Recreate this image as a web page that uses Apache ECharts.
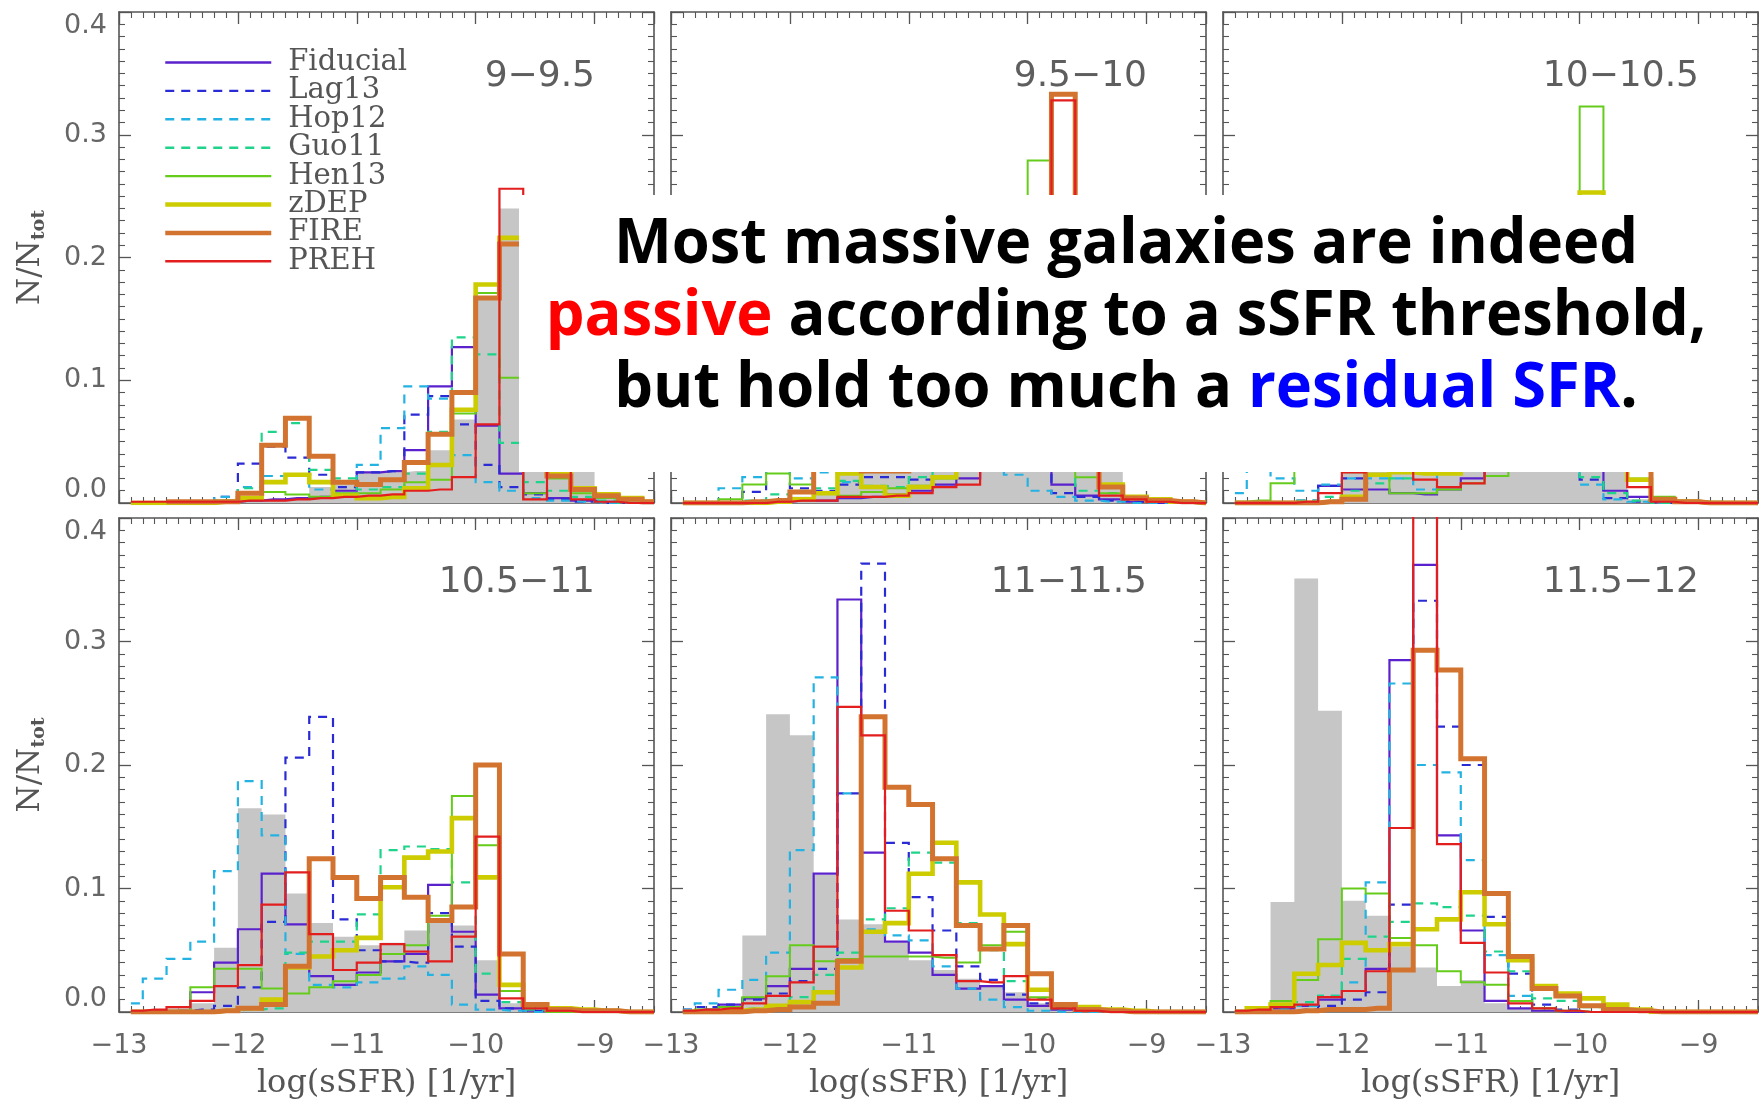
<!DOCTYPE html>
<html>
<head>
<meta charset="utf-8">
<title>sSFR distributions per stellar-mass bin</title>
<script src="https://cdn.jsdelivr.net/npm/echarts@6.0.0/dist/echarts.min.js"></script>
<style>
  html, body { margin: 0; padding: 0; background: #ffffff; }
  #chart { width: 1759px; height: 1102px; }
</style>
</head>
<body>
<div id="chart"></div>
<script>
// Centres of the 0.2 dex log(sSFR) bins
const BIN_CENTERS = [-12.9, -12.7, -12.5, -12.3, -12.1, -11.9, -11.7, -11.5, -11.3, -11.1, -10.9,
  -10.7, -10.5, -10.3, -10.1, -9.9, -9.7, -9.5, -9.3, -9.1, -8.9, -8.7, -8.5];

// Stellar-mass bins, one panel each
const MASS_BINS = ['9\u22129.5', '9.5\u221210', '10\u221210.5', '10.5\u221211', '11\u221211.5', '11.5\u221212'];

const MODEL_NAMES = ['Fiducial', 'Lag13', 'Hop12', 'Guo11', 'Hen13', 'zDEP', 'FIRE', 'PREH'];

const X_TITLE = 'log(sSFR) [1/yr]';

// Observed distribution (grey histogram), one row per mass bin
const OBSERVED = [
  [0, 0, 0, 0, 0, 0.001, 0.002, 0.003, 0.013, 0.016, 0.025, 0.025, 0.026, 0.043, 0.068, 0.166, 0.24, 0.07, 0.035, 0.027, 0.009, 0.005, 0.001],
  [0, 0, 0, 0, 0.002, 0.005, 0.01, 0.045, 0.05, 0.055, 0.06, 0.07, 0.09, 0.12, 0.16, 0.2, 0.15, 0.08, 0.04, 0.002, 0.001, 0, 0],
  [0, 0, 0, 0, 0.002, 0.03, 0.05, 0.06, 0.07, 0.08, 0.09, 0.1, 0.12, 0.15, 0.18, 0.2, 0.12, 0.003, 0.001, 0, 0, 0, 0],
  [0, 0.001, 0.003, 0.007, 0.052, 0.165, 0.16, 0.096, 0.072, 0.061, 0.054, 0.056, 0.066, 0.072, 0.07, 0.042, 0.007, 0.002, 0, 0, 0, 0, 0],
  [0, 0, 0.002, 0.062, 0.241, 0.224, 0.111, 0.075, 0.071, 0.056, 0.042, 0.034, 0.027, 0.021, 0.016, 0.007, 0.003, 0.001, 0, 0, 0, 0, 0],
  [0, 0.004, 0.089, 0.351, 0.244, 0.09, 0.078, 0.053, 0.036, 0.021, 0.026, 0.007, 0.003, 0.001, 0, 0, 0, 0, 0, 0, 0, 0, 0]
];

const FIDUCIAL = [
  [0, 0, 0, 0, 0.001, 0.002, 0.003, 0.004, 0.005, 0.01, 0.025, 0.026, 0.043, 0.095, 0.127, 0.063, 0.024, 0.008, 0.004, 0.002, 0.001, 0, 0],
  [0, 0, 0, 0, 0.001, 0.002, 0.002, 0.004, 0.005, 0.007, 0.01, 0.015, 0.02, 0.04, 0.08, 0.15, 0.015, 0.006, 0.003, 0.001, 0, 0, 0],
  [0, 0, 0, 0, 0.014, 0.011, 0.011, 0.008, 0.007, 0.011, 0.02, 0.03, 0.05, 0.07, 0.1, 0.12, 0.01, 0.005, 0.001, 0, 0, 0, 0],
  [0, 0, 0.001, 0.016, 0.04, 0.067, 0.112, 0.071, 0.029, 0.022, 0.032, 0.041, 0.047, 0.103, 0.065, 0.014, 0.003, 0.001, 0, 0, 0, 0, 0],
  [0.001, 0.002, 0.006, 0.011, 0.021, 0.035, 0.112, 0.334, 0.129, 0.057, 0.048, 0.03, 0.019, 0.021, 0.01, 0.005, 0.002, 0.001, 0, 0, 0, 0, 0],
  [0, 0.001, 0.003, 0.005, 0.01, 0.017, 0.035, 0.285, 0.362, 0.143, 0.066, 0.009, 0.003, 0.001, 0, 0, 0, 0, 0, 0, 0, 0, 0]
];

const LAG13 = [
  [0, 0, 0, 0, 0.005, 0.032, 0.046, 0.037, 0.023, 0.013, 0.025, 0.026, 0.072, 0.087, 0.064, 0.031, 0.013, 0.007, 0.003, 0.001, 0, 0, 0],
  [0, 0, 0, 0.009, 0.03, 0.012, 0.01, 0.015, 0.021, 0.021, 0.019, 0.03, 0.04, 0.06, 0.1, 0.12, 0.008, 0.005, 0.002, 0.001, 0, 0, 0],
  [0, 0, 0, 0.002, 0.014, 0.02, 0.03, 0.03, 0.03, 0.03, 0.04, 0.05, 0.06, 0.07, 0.08, 0.019, 0.004, 0.001, 0, 0, 0, 0, 0],
  [0, 0, 0.001, 0.002, 0.005, 0.02, 0.073, 0.206, 0.239, 0.075, 0.05, 0.041, 0.04, 0.08, 0.053, 0.009, 0.003, 0.001, 0, 0, 0, 0, 0],
  [0.002, 0.004, 0.006, 0.01, 0.015, 0.025, 0.035, 0.177, 0.363, 0.137, 0.093, 0.066, 0.037, 0.026, 0.014, 0.007, 0.003, 0.001, 0, 0, 0, 0, 0],
  [0, 0, 0.001, 0.002, 0.005, 0.01, 0.016, 0.087, 0.333, 0.231, 0.2, 0.077, 0.031, 0.006, 0.002, 0, 0, 0, 0, 0, 0, 0, 0]
];

const HOP12 = [
  [0, 0, 0, 0, 0.005, 0.013, 0.022, 0.022, 0.011, 0.017, 0.031, 0.061, 0.095, 0.085, 0.039, 0.017, 0.01, 0.004, 0.002, 0.001, 0, 0, 0],
  [0, 0, 0.012, 0.021, 0.03, 0.02, 0.025, 0.017, 0.03, 0.04, 0.05, 0.06, 0.07, 0.08, 0.023, 0.01, 0.005, 0.002, 0.001, 0, 0, 0, 0],
  [0.008, 0.03, 0.02, 0.01, 0.015, 0.02, 0.02, 0.02, 0.011, 0.04, 0.05, 0.06, 0.07, 0.06, 0.03, 0.015, 0.003, 0.001, 0, 0, 0, 0, 0],
  [0.007, 0.027, 0.043, 0.057, 0.114, 0.187, 0.143, 0.047, 0.022, 0.02, 0.024, 0.027, 0.037, 0.03, 0.006, 0.002, 0.001, 0, 0, 0, 0, 0, 0],
  [0.002, 0.007, 0.018, 0.026, 0.048, 0.131, 0.271, 0.177, 0.067, 0.062, 0.058, 0.037, 0.019, 0.01, 0.004, 0.001, 0, 0, 0, 0, 0, 0, 0],
  [0, 0, 0.002, 0.005, 0.013, 0.024, 0.105, 0.266, 0.2, 0.194, 0.123, 0.046, 0.013, 0.003, 0.001, 0, 0, 0, 0, 0, 0, 0, 0]
];

const GUO11 = [
  [0, 0, 0, 0, 0.002, 0.012, 0.058, 0.065, 0.027, 0.02, 0.011, 0.013, 0.024, 0.058, 0.135, 0.121, 0.049, 0.017, 0.01, 0.005, 0.002, 0, 0],
  [0, 0, 0, 0.002, 0.007, 0.01, 0.012, 0.018, 0.014, 0.013, 0.021, 0.03, 0.05, 0.07, 0.09, 0.1, 0.04, 0.01, 0.008, 0.003, 0.001, 0, 0],
  [0, 0, 0, 0.002, 0.005, 0.01, 0.016, 0.02, 0.025, 0.03, 0.04, 0.05, 0.06, 0.08, 0.1, 0.021, 0.008, 0.002, 0, 0, 0, 0, 0],
  [0, 0, 0, 0, 0.001, 0.002, 0.003, 0.048, 0.057, 0.057, 0.079, 0.131, 0.134, 0.132, 0.105, 0.031, 0.008, 0.002, 0, 0, 0, 0, 0],
  [0, 0.001, 0.002, 0.003, 0.005, 0.012, 0.03, 0.048, 0.075, 0.084, 0.129, 0.121, 0.072, 0.05, 0.025, 0.011, 0.003, 0.001, 0, 0, 0, 0, 0],
  [0, 0.002, 0.004, 0.008, 0.013, 0.043, 0.061, 0.073, 0.088, 0.085, 0.078, 0.049, 0.033, 0.011, 0.009, 0.004, 0.002, 0, 0, 0, 0, 0, 0]
];

const HEN13 = [
  [0, 0, 0, 0, 0.002, 0.009, 0.009, 0.007, 0.005, 0.008, 0.008, 0.011, 0.017, 0.019, 0.073, 0.171, 0.102, 0.008, 0.02, 0.008, 0.004, 0.002, 0],
  [0, 0, 0.003, 0.015, 0.024, 0.015, 0.008, 0.006, 0.009, 0.012, 0.014, 0.02, 0.035, 0.06, 0.12, 0.279, 0.08, 0.021, 0.008, 0.004, 0.002, 0.001, 0],
  [0.001, 0.002, 0.016, 0.04, 0.03, 0.025, 0.022, 0.008, 0.008, 0.011, 0.016, 0.022, 0.04, 0.06, 0.12, 0.323, 0.1, 0.02, 0.005, 0.002, 0.001, 0, 0],
  [0, 0, 0.001, 0.02, 0.035, 0.035, 0.019, 0.015, 0.02, 0.025, 0.03, 0.047, 0.054, 0.078, 0.175, 0.135, 0.017, 0.003, 0, 0, 0, 0, 0],
  [0, 0.002, 0.004, 0.012, 0.029, 0.054, 0.041, 0.043, 0.045, 0.045, 0.045, 0.044, 0.04, 0.054, 0.065, 0.012, 0.003, 0.001, 0, 0, 0, 0, 0],
  [0.001, 0.004, 0.009, 0.026, 0.059, 0.1, 0.096, 0.06, 0.054, 0.033, 0.024, 0.022, 0.009, 0.003, 0.001, 0, 0, 0, 0, 0, 0, 0, 0]
];

const ZDEP = [
  [0, 0, 0, 0, 0.001, 0.004, 0.017, 0.023, 0.017, 0.006, 0.004, 0.005, 0.012, 0.031, 0.076, 0.178, 0.216, 0.05, 0.024, 0.012, 0.007, 0.004, 0.001],
  [0, 0, 0, 0, 0.001, 0.003, 0.008, 0.024, 0.013, 0.006, 0.013, 0.021, 0.03, 0.05, 0.09, 0.18, 0.2, 0.04, 0.015, 0.005, 0.003, 0.001, 0],
  [0, 0, 0, 0, 0.001, 0.005, 0.023, 0.025, 0.024, 0.024, 0.03, 0.04, 0.06, 0.09, 0.15, 0.253, 0.1, 0.019, 0.003, 0.001, 0, 0, 0],
  [0, 0, 0, 0, 0.001, 0.003, 0.01, 0.036, 0.045, 0.05, 0.06, 0.101, 0.125, 0.13, 0.157, 0.109, 0.022, 0.006, 0.003, 0.002, 0.001, 0, 0],
  [0, 0, 0.001, 0.002, 0.005, 0.008, 0.016, 0.036, 0.065, 0.072, 0.112, 0.137, 0.105, 0.079, 0.055, 0.018, 0.006, 0.004, 0.002, 0.001, 0, 0, 0],
  [0, 0.003, 0.006, 0.031, 0.038, 0.056, 0.05, 0.055, 0.067, 0.075, 0.097, 0.071, 0.042, 0.021, 0.015, 0.011, 0.006, 0.002, 0, 0, 0, 0, 0]
];

const FIRE = [
  [null, null, 0.001, 0.001, 0.001, 0.008, 0.047, 0.069, 0.038, 0.017, 0.015, 0.019, 0.033, 0.056, 0.09, 0.167, 0.211, 0.06, 0.022, 0.011, 0.006, 0.003, 0.001],
  [0, 0, 0, 0.001, 0.002, 0.009, 0.04, 0.03, 0.026, 0.026, 0.03, 0.04, 0.05, 0.07, 0.12, 0.2, 0.333, 0.05, 0.013, 0.004, 0.002, 0.001, 0],
  [0, 0, 0, 0, 0.001, 0.003, 0.03, 0.04, 0.05, 0.06, 0.07, 0.08, 0.09, 0.1, 0.15, 0.2, 0.1, 0.05, 0.003, 0.001, 0, 0, 0],
  [0, 0, 0, 0, 0.001, 0.003, 0.006, 0.037, 0.124, 0.109, 0.092, 0.109, 0.093, 0.074, 0.085, 0.2, 0.047, 0.006, 0.002, 0.001, 0.001, 0, 0],
  [0, 0, 0, 0.001, 0.002, 0.004, 0.007, 0.041, 0.239, 0.182, 0.168, 0.124, 0.07, 0.051, 0.07, 0.031, 0.006, 0.002, 0.001, 0, 0, 0, 0],
  [0, 0, 0, 0.001, 0.002, 0.002, 0.003, 0.034, 0.293, 0.277, 0.205, 0.096, 0.045, 0.019, 0.013, 0.005, 0.002, 0.001, 0, 0, 0, 0, 0]
];

const PREH = [
  [0.001, 0.001, 0.001, 0.001, 0.001, 0.002, 0.002, 0.003, 0.004, 0.005, 0.006, 0.007, 0.01, 0.011, 0.021, 0.064, 0.256, 0.003, 0.03, 0.003, 0.001, 0, 0],
  [0, 0, 0, 0, 0.001, 0.002, 0.002, 0.005, 0.005, 0.006, 0.008, 0.013, 0.015, 0.04, 0.1, 0.2, 0.328, 0.03, 0.006, 0.003, 0.001, 0, 0],
  [0, 0, 0, 0.001, 0.008, 0.025, 0.04, 0.04, 0.019, 0.013, 0.016, 0.04, 0.05, 0.07, 0.1, 0.15, 0.08, 0.013, 0.001, 0, 0, 0, 0],
  [0.001, 0.002, 0.004, 0.009, 0.021, 0.038, 0.087, 0.113, 0.063, 0.034, 0.04, 0.055, 0.049, 0.041, 0.061, 0.142, 0.011, 0.003, 0.001, 0, 0, 0, 0],
  [0.001, 0.002, 0.003, 0.007, 0.013, 0.024, 0.053, 0.247, 0.224, 0.082, 0.066, 0.046, 0.025, 0.024, 0.029, 0.01, 0.003, 0.001, 0, 0, 0, 0, 0],
  [0.001, 0.002, 0.004, 0.006, 0.012, 0.017, 0.033, 0.149, 0.45, 0.136, 0.056, 0.032, 0.007, 0.003, 0.001, 0, 0, 0, 0, 0, 0, 0, 0]
];

const MODEL_VALUES = {
  Fiducial: FIDUCIAL, Lag13: LAG13, Hop12: HOP12, Guo11: GUO11,
  Hen13: HEN13, zDEP: ZDEP, FIRE: FIRE, PREH: PREH
};

// Line appearance of each model
const MODEL_STYLE = {
  Fiducial: { color: '#5a22cc', width: 2.2, type: 'solid' },
  Lag13:    { color: '#2b2bd6', width: 2.2, type: [9, 7] },
  Hop12:    { color: '#24b2e2', width: 2.2, type: [9, 7] },
  Guo11:    { color: '#1fd48a', width: 2.2, type: [9, 7] },
  Hen13:    { color: '#66cc1c', width: 2.0, type: 'solid' },
  zDEP:     { color: '#cccc00', width: 4.6, type: 'solid' },
  FIRE:     { color: '#d27430', width: 5.0, type: 'solid' },
  PREH:     { color: '#e21e1e', width: 2.2, type: 'solid' }
};

// Panel layout (pixels)
const COL_LEFT = [119, 671, 1223];
const ROW_TOP = [12, 518];
const ROW_HEIGHT = [491, 494];
const PANEL_WIDTH = 535;

const AXIS_COLOR = '#555555';
const LABEL_COLOR = '#666666';
const TEXT_GREY = '#555555';

function toPairs(values) {
  return values.map((v, k) => [BIN_CENTERS[k], v === null ? '-' : v]);
}

function formatX(v) {
  const r = Math.round(v);
  if (Math.abs(v - r) > 1e-6) return '';
  return String(r).replace('-', '\u2212');
}

const grids = [];
const xAxes = [];
const yAxes = [];
const series = [];

const frameLine = { show: true, onZero: false, lineStyle: { color: AXIS_COLOR, width: 1.6 } };
const majorTick = { show: true, inside: true, length: 12, lineStyle: { color: AXIS_COLOR, width: 1.3 } };
const smallTick = { show: true, inside: true, length: 6, lineStyle: { color: AXIS_COLOR, width: 1.1 } };

MASS_BINS.forEach((massLabel, i) => {
  const row = Math.floor(i / 3);
  const col = i % 3;

  grids.push({
    left: COL_LEFT[col], top: ROW_TOP[row],
    width: PANEL_WIDTH, height: ROW_HEIGHT[row], containLabel: false
  });

  const xBase = {
    type: 'value', gridIndex: i, min: -13, max: -8.5,
    splitLine: { show: false }, axisLabel: { show: false },
    axisLine: { show: false, onZero: false }
  };

  // bottom: integer ticks with labels, then 0.1 ticks
  xAxes.push(Object.assign({}, xBase, {
    position: 'bottom', interval: 1, axisLine: frameLine, axisTick: majorTick,
    axisLabel: {
      show: row === 1, showMaxLabel: false, margin: 20, formatter: formatX,
      fontFamily: 'DejaVu Sans', fontSize: 27, color: LABEL_COLOR
    },
    name: row === 1 ? X_TITLE : '', nameLocation: 'middle', nameGap: 56,
    nameTextStyle: { fontFamily: 'DejaVu Serif', fontSize: 32, color: TEXT_GREY }
  }));
  xAxes.push(Object.assign({}, xBase, { position: 'bottom', interval: 0.1, axisTick: smallTick }));
  // top: mirrored frame
  xAxes.push(Object.assign({}, xBase, { position: 'top', interval: 1, axisLine: frameLine, axisTick: majorTick }));
  xAxes.push(Object.assign({}, xBase, { position: 'top', interval: 0.1, axisTick: smallTick }));

  const yBase = {
    type: 'value', gridIndex: i, min: 0, max: 0.4, interval: 0.1,
    splitLine: { show: false }, axisLine: frameLine, axisTick: majorTick,
    minorTick: { show: true, splitNumber: 10, length: 6, lineStyle: { color: AXIS_COLOR, width: 1.1 } },
    minorSplitLine: { show: false }
  };
  yAxes.push(Object.assign({}, yBase, {
    position: 'left',
    axisLabel: {
      show: col === 0, margin: 12, formatter: v => v.toFixed(1),
      fontFamily: 'DejaVu Sans', fontSize: 27, color: LABEL_COLOR,
      verticalAlignMinLabel: 'bottom', verticalAlignMaxLabel: 'top'
    },
    name: col === 0 ? '{n|N/N}{s|tot}' : '',
    nameLocation: 'middle', nameRotate: 90, nameGap: 70,
    nameTextStyle: {
      color: TEXT_GREY,
      rich: {
        n: { fontFamily: 'DejaVu Serif', fontSize: 31, color: TEXT_GREY, lineHeight: 36, verticalAlign: 'middle' },
        s: { fontFamily: 'DejaVu Serif', fontSize: 19, fontWeight: 'bold', color: TEXT_GREY, lineHeight: 19, verticalAlign: 'bottom' }
      }
    }
  }));
  yAxes.push(Object.assign({}, yBase, { position: 'right', axisLabel: { show: false } }));

  // observed histogram, filled grey
  series.push({
    type: 'line', name: 'observed', xAxisIndex: 4 * i, yAxisIndex: 2 * i,
    step: 'middle', symbol: 'none', silent: true, z: 1,
    lineStyle: { width: 0, opacity: 0 },
    areaStyle: { color: '#c6c6c6', opacity: 1 },
    data: toPairs(OBSERVED[i])
  });

  MODEL_NAMES.forEach(name => {
    const st = MODEL_STYLE[name];
    series.push({
      type: 'line', name: name, xAxisIndex: 4 * i, yAxisIndex: 2 * i,
      step: 'middle', symbol: 'none', silent: true, z: 3,
      color: st.color,
      lineStyle: { color: st.color, width: st.width, type: st.type, cap: 'butt', join: 'miter' },
      data: toPairs(MODEL_VALUES[name][i])
    });
  });
});

// panel labels and the annotation box
const graphics = MASS_BINS.map((massLabel, i) => {
  const row = Math.floor(i / 3);
  const col = i % 3;
  return {
    type: 'text', silent: true, z: 50,
    x: COL_LEFT[col] + PANEL_WIDTH - 59,
    y: ROW_TOP[row] + 65,
    style: {
      text: massLabel, fill: '#5e5e5e', align: 'right', verticalAlign: 'middle',
      fontFamily: 'DejaVu Sans', fontSize: 36
    }
  };
});

const NOTE_FONT = { fontFamily: 'Open Sans', fontWeight: 'bold', fontSize: 62 };
const NOTE_X = 1126;
const NOTE_SCALE_X = 0.99;

graphics.push({
  type: 'rect', silent: true, z: 100,
  shape: { x: 519, y: 195, width: 1233, height: 277 },
  style: { fill: '#ffffff' }
});
graphics.push({
  type: 'text', silent: true, z: 101, x: NOTE_X, y: 245, scaleX: NOTE_SCALE_X,
  style: Object.assign({ text: 'Most massive galaxies are indeed', fill: '#000000', align: 'center', verticalAlign: 'middle' }, NOTE_FONT)
});
graphics.push({
  type: 'text', silent: true, z: 101, x: NOTE_X, y: 317, scaleX: NOTE_SCALE_X,
  style: Object.assign({
    text: '{r|passive} according to a sSFR threshold,', fill: '#000000',
    align: 'center', verticalAlign: 'middle',
    rich: { r: Object.assign({ fill: '#ff0000' }, NOTE_FONT) }
  }, NOTE_FONT)
});
graphics.push({
  type: 'text', silent: true, z: 101, x: NOTE_X, y: 389, scaleX: NOTE_SCALE_X,
  style: Object.assign({
    text: 'but hold too much a {b|residual SFR}.', fill: '#000000',
    align: 'center', verticalAlign: 'middle',
    rich: { b: Object.assign({ fill: '#0000ff' }, NOTE_FONT) }
  }, NOTE_FONT)
});

const legendData = MODEL_NAMES.map(name => ({
  name: name,
  lineStyle: { width: MODEL_STYLE[name].width > 3 ? 4.5 : 2.4 }
}));

const option = {
  animation: false,
  backgroundColor: '#ffffff',
  grid: grids,
  xAxis: xAxes,
  yAxis: yAxes,
  series: series,
  legend: {
    data: legendData,
    orient: 'vertical', left: 158, top: 43,
    itemWidth: 106, itemHeight: 14, itemGap: -0.6,
    selectedMode: false,
    itemStyle: { opacity: 0 },
    textStyle: { fontFamily: 'DejaVu Serif', fontSize: 29, lineHeight: 28, color: TEXT_GREY, padding: [0, 0, 0, 12] }
  },
  graphic: graphics
};

const chart = echarts.init(document.getElementById('chart'), null, { renderer: 'canvas' });
chart.setOption(option);
</script>
</body>
</html>
